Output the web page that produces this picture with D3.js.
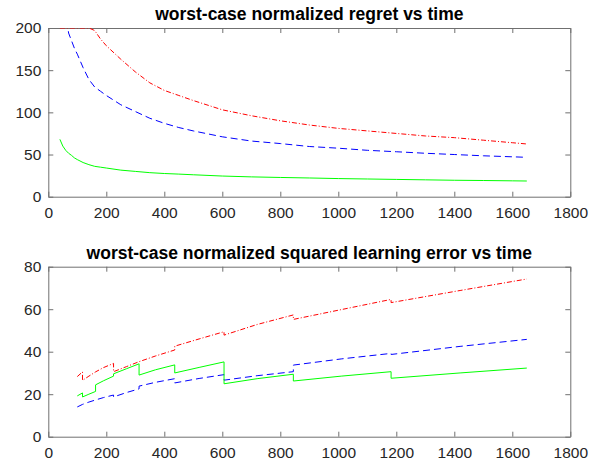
<!DOCTYPE html>
<html>
<head>
<meta charset="utf-8">
<script src="https://cdn.jsdelivr.net/npm/d3@7"></script>
<style>
body { margin: 0; background: #fff; }
text { font-family: "Liberation Sans", Arial, sans-serif; }
</style>
</head>
<body>
<svg id="chart"></svg>
<script>

var w = 597;
var h = 461;

// top panel: regret vs time
var tTop = [40, 50, 60, 70, 80, 90, 100, 120, 140, 160, 180, 200, 250, 300, 350, 400, 450, 500,
	600, 700, 800, 900, 1000, 1100, 1200, 1300, 1400, 1500, 1600, 1650];
var regretRed = [200, 200, 200, 200, 200, 200, 200, 200, 200, 197, 187, 179, 163, 148, 135, 126, 120, 114,
	103, 96, 90, 85, 81, 78, 75, 72, 70, 67, 64, 62.5];
var regretBlue = [300, 255, 220, 194, 185, 176, 169, 153, 139, 130, 125, 120, 109, 101, 93, 87, 82, 78,
	71, 66, 63, 59.5, 57.5, 55, 53.3, 51.5, 50, 48.5, 47.3, 46.7];
var regretGreen = [68, 60, 55, 51.5, 49, 46, 44, 40.5, 38, 36, 35, 34, 31.5, 30, 28.5, 27.5, 26.8, 26,
	24.5, 23.5, 22.8, 22.2, 21.5, 21, 20.5, 20, 19.5, 19.2, 18.8, 18.6];

// bottom panel: squared learning error vs time (repeated times are the jumps)
var tBot = [100, 118, 118, 140, 163, 163, 190, 225, 225, 270, 313, 313, 370, 436, 436, 520, 606, 606,
	720, 845, 845, 1010, 1182, 1182, 1420, 1650];
var errRed = [28.3, 30.5, 26.5, 28.5, 30.5, 30.5, 32.5, 34.5, 30.6, 33, 35.3, 35.3, 38, 40.8, 42.6, 46, 49.4, 47.8,
	52.8, 57.3, 55.2, 59.8, 64.6, 63.1, 68.8, 74.2];
var errBlue = [14, 15.2, 15.2, 16.3, 17.3, 17.3, 18.4, 19.6, 18.7, 20.8, 22.5, 23.8, 25.6, 27.3, 25.3, 27.4, 29.2, 26.6,
	28.7, 30.6, 33.7, 36.6, 39.2, 38.7, 42.5, 45.8];
var errGreen = [19.2, 20.6, 18.7, 20, 21.3, 24.4, 26.3, 28.5, 29.6, 32, 34.3, 29, 31.5, 33.8, 30, 32.6, 35.2, 24.9,
	27.3, 29.4, 26.2, 28.5, 30.6, 27.5, 30, 32.3];

var xTicks = [0, 200, 400, 600, 800, 1000, 1200, 1400, 1600, 1800];

var svg = d3.select('#chart')
	.attr('width', w)
	.attr('height', h)
	.style('background-color', '#fff');

var left = 48.3, right = 570.3;

function panel(id, top, bottom, title, ymax, yTicks, t, series) {

	var x = d3.scaleLinear().domain([0, 1800]).range([left, right]);
	var y = d3.scaleLinear().domain([0, ymax]).range([bottom, top]);

	var g = svg.append('g').attr('id', id);

	g.append('clipPath').attr('id', id + '_clip')
		.append('rect')
		.attr('x', left).attr('y', top)
		.attr('width', right - left).attr('height', bottom - top);

	var axcol = '#707070';
	var fmt = d3.format('d');

	var xb = g.append('g')
		.attr('transform', 'translate(0,' + bottom + ')')
		.call(d3.axisBottom(x).tickValues(xTicks).tickFormat(fmt).tickSizeInner(-5).tickSizeOuter(0).tickPadding(10));
	var xt = g.append('g')
		.attr('transform', 'translate(0,' + top + ')')
		.call(d3.axisTop(x).tickValues(xTicks).tickSizeInner(-5).tickSizeOuter(0).tickFormat(''));
	var yl = g.append('g')
		.attr('transform', 'translate(' + left + ',0)')
		.call(d3.axisLeft(y).tickValues(yTicks).tickFormat(fmt).tickSizeInner(-5).tickSizeOuter(0).tickPadding(7));
	var yr = g.append('g')
		.attr('transform', 'translate(' + right + ',0)')
		.call(d3.axisRight(y).tickValues(yTicks).tickSizeInner(-5).tickSizeOuter(0).tickFormat(''));

	[xb, xt, yl, yr].forEach(function(a) {
		a.select('.domain').attr('stroke', axcol);
		a.selectAll('.tick line').attr('stroke', axcol);
		a.selectAll('.tick text')
			.attr('fill', '#262626')
			.style('font-size', '15.5px');
	});

	g.append('text')
		.attr('x', (left + right) / 2)
		.attr('y', top - 8)
		.attr('text-anchor', 'middle')
		.style('font-size', '17.5px')
		.style('font-weight', 'bold')
		.attr('fill', '#000')
		.text(title);

	var line = d3.line()
		.x(function(d) { return x(d[0]); })
		.y(function(d) { return y(d[1]); });

	series.forEach(function(s) {
		var pts = t.map(function(v, i) { return [v, s.values[i]]; });
		g.append('path')
			.attr('clip-path', 'url(#' + id + '_clip)')
			.attr('d', line(pts))
			.attr('fill', 'none')
			.attr('stroke', s.color)
			.attr('stroke-width', 1)
			.attr('stroke-dasharray', s.dash);
	});
}

panel('p1', 28, 196.7, 'worst-case normalized regret vs time', 200, [0, 50, 100, 150, 200], tTop, [
	{ values: regretRed, color: '#ff0000', dash: '5,2,1,2' },
	{ values: regretBlue, color: '#0000ff', dash: '7,4' },
	{ values: regretGreen, color: '#00ff00', dash: null }
]);

panel('p2', 266.7, 436.7, 'worst-case normalized squared learning error vs time', 80, [0, 20, 40, 60, 80], tBot, [
	{ values: errRed, color: '#ff0000', dash: '5,2,1,2' },
	{ values: errBlue, color: '#0000ff', dash: '7,4' },
	{ values: errGreen, color: '#00ff00', dash: null }
]);

</script>
</body>
</html>
